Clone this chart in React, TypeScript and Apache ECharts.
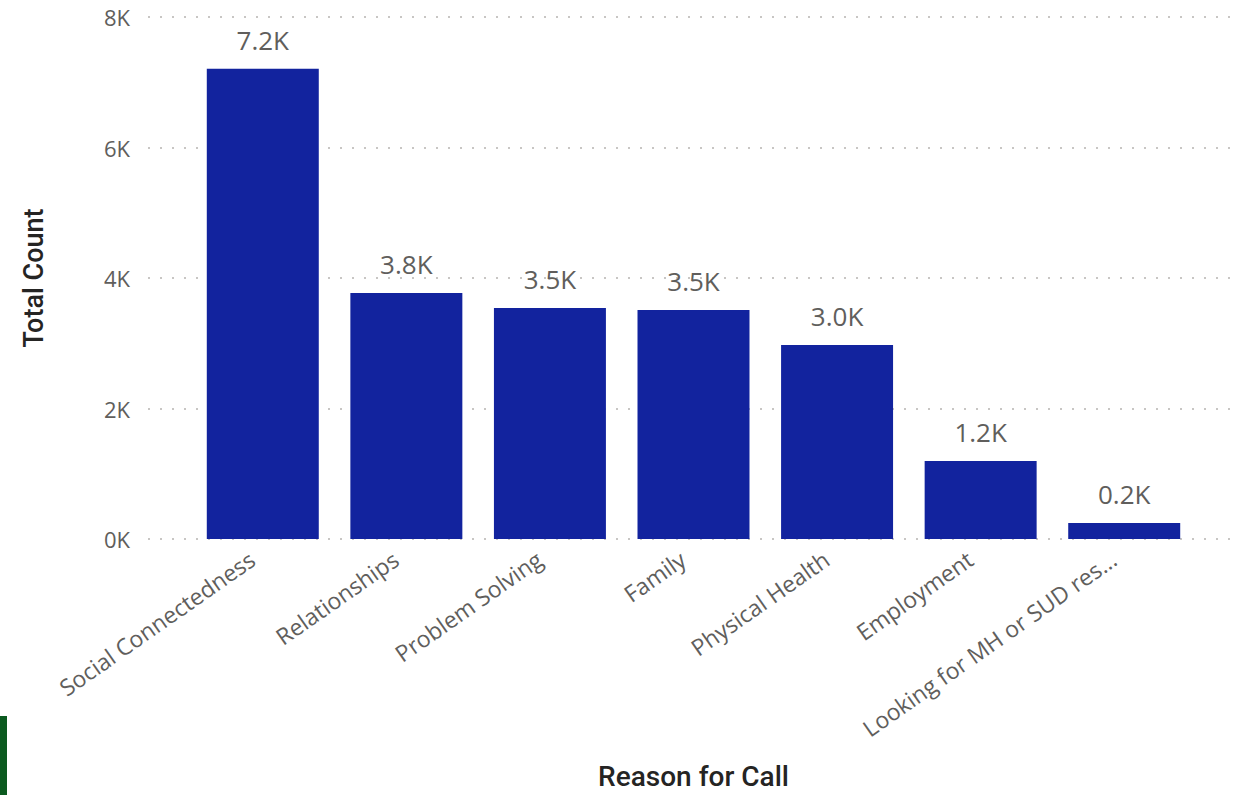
import React, { useEffect, useRef } from "react";
import * as echarts from "echarts";

const categories = [
  "Social Connectedness",
  "Relationships",
  "Problem Solving",
  "Family",
  "Physical Health",
  "Employment",
  "Looking for MH or SUD resources",
];
const counts = [7205, 3770, 3540, 3510, 2975, 1195, 245];
const yTicks = { min: 0, max: 8000, interval: 2000 };
const yTitle = "Total Count";
const xTitle = "Reason for Call";

export default function App() {
  const ref = useRef<HTMLDivElement>(null);
  useEffect(() => {
    document.body.style.margin = "0";
    const chart = echarts.init(ref.current!, null, { renderer: "svg" });
    const labelFont = "'Open Sans', 'Noto Sans', sans-serif";
    chart.setOption({
      animation: false,
      backgroundColor: "#ffffff",
      grid: [
        { left: 148, right: 0, top: 17, bottom: 256 },
        { left: 191, right: 40, top: 17, bottom: 256 },
      ],
      xAxis: [
        { type: "value", gridIndex: 0, min: 0, max: 1, show: false },
        {
          type: "category",
          gridIndex: 1,
          data: categories,
          axisLine: { show: false },
          axisTick: { show: false },
          axisLabel: {
            rotate: 35,
            margin: 10,
            padding: [0, 13, 0, 0],
            color: "#605E5C",
            fontSize: 23,
            fontFamily: labelFont,
            interval: 0,
            formatter: (v: string) => (v.length > 28 ? v.slice(0, 25) + "..." : v),
          },
          name: xTitle,
          nameLocation: "middle",
          nameGap: 223,
          nameTextStyle: {
            color: "#252423",
            fontSize: 28,
            fontWeight: 500,
            fontFamily: "Roboto, sans-serif",
          },
        },
      ],
      yAxis: [
        {
          type: "value",
          gridIndex: 0,
          min: yTicks.min,
          max: yTicks.max,
          interval: yTicks.interval,
          axisLine: { show: false },
          axisTick: { show: false },
          axisLabel: {
            margin: 18,
            color: "#605E5C",
            fontSize: 22,
            fontFamily: labelFont,
            formatter: (v: number) => v / 1000 + "K",
          },
          splitLine: {
            show: true,
            lineStyle: { color: "#C8C6C4", width: 2, type: [2, 10] },
          },
          name: yTitle,
          nameLocation: "middle",
          nameRotate: 90,
          nameGap: 101,
          nameTextStyle: {
            color: "#252423",
            fontSize: 27,
            fontWeight: 500,
            fontFamily: "Roboto, sans-serif",
          },
        },
        {
          type: "value",
          gridIndex: 1,
          min: yTicks.min,
          max: yTicks.max,
          interval: yTicks.interval,
          show: false,
          splitLine: { show: false },
        },
      ],
      series: [
        { type: "scatter", xAxisIndex: 0, yAxisIndex: 0, data: [], silent: true },
        {
          type: "bar",
          xAxisIndex: 1,
          yAxisIndex: 1,
          data: counts,
          barCategoryGap: "22%",
          itemStyle: { color: "#12239E" },
          label: {
            show: true,
            position: "top",
            distance: 16,
            color: "#605E5C",
            fontSize: 26,
            fontFamily: labelFont,
            formatter: (p: any) => (p.value / 1000).toFixed(1) + "K",
          },
        },
      ],
      graphic: [
        {
          type: "rect",
          left: 0,
          top: 716,
          shape: { width: 7, height: 79 },
          style: { fill: "#0B5A1F" },
        },
      ],
    });
    return () => chart.dispose();
  }, []);
  return <div ref={ref} style={{ width: 1236, height: 795 }} />;
}
